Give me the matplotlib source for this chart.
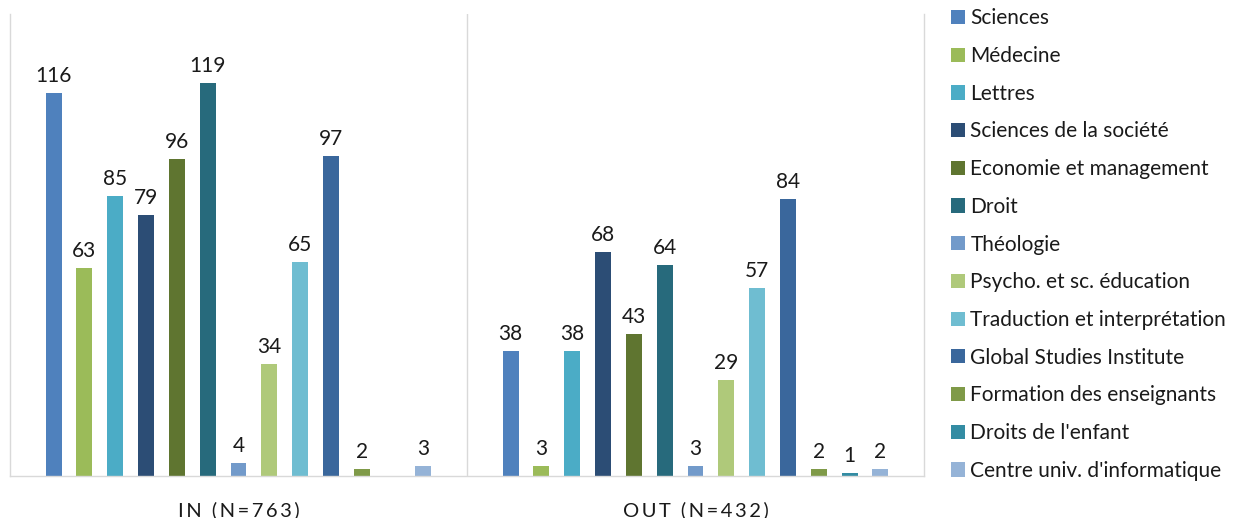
import matplotlib.pyplot as plt
import numpy as np

plt.rcParams['font.family'] = ['Lato', 'DejaVu Sans']

groups = ["IN (N=763)", "OUT (N=432)"]
faculties = [
    "Sciences", "Médecine", "Lettres", "Sciences de la société",
    "Economie et management", "Droit", "Théologie", "Psycho. et sc. éducation",
    "Traduction et interprétation", "Global Studies Institute",
    "Formation des enseignants", "Droits de l'enfant", "Centre univ. d'informatique",
]
in_values = [116, 63, 85, 79, 96, 119, 4, 34, 65, 97, 2, 0, 3]
out_values = [38, 3, 38, 68, 43, 64, 3, 29, 57, 84, 2, 1, 2]
colors = [
    "#4F81BD", "#9BBB59", "#4BACC6", "#2C4D75", "#5F7530", "#276A7C",
    "#729ACA", "#AFC97A", "#6FBDD1", "#3A679C", "#7F9A48", "#338CA3", "#95B3D7",
]

fig = plt.figure(figsize=(12.4, 5.18), dpi=100)
ax = fig.add_axes([10 / 1240, 42 / 518, 914 / 1240, 462 / 518])

x = np.arange(len(groups))
slot = 0.0674
width = 0.035
for i, (name, col) in enumerate(zip(faculties, colors)):
    vals = [in_values[i], out_values[i]]
    pos = x + (i - 6) * slot
    bars = ax.bar(pos, vals, width, color=col, label=name, edgecolor="none")
    for b, v in zip(bars, vals):
        if v > 0:
            ax.annotate(str(v), (b.get_x() + b.get_width() / 2, v),
                        xytext=(0, 5), textcoords="offset points",
                        ha="center", va="bottom", fontsize=15, color="#1a1a1a")

ax.set_xlim(-0.5, 1.5)
ax.set_ylim(0, 140)
ax.set_yticks([])
ax.set_xticks([])
grid = "#D9D9D9"
for s in ["left", "right", "bottom"]:
    ax.spines[s].set_color(grid)
    ax.spines[s].set_linewidth(1)
ax.spines["top"].set_visible(False)
ax.axvline(0.5, color=grid, lw=1)

for xi, g in zip(x, groups):
    ax.text(xi, -0.055, "\u2009".join(g), transform=ax.get_xaxis_transform(),
            ha="center", va="top", fontsize=14.5, color="#1a1a1a")

leg = fig.legend(loc="upper left", bbox_to_anchor=(943 / 1240, 1.0), frameon=False,
                 fontsize=15, handlelength=0.67, handleheight=0.67, handletextpad=0.25,
                 labelspacing=0.85, borderaxespad=0.0)
for t in leg.get_texts():
    t.set_color("#1a1a1a")

fig.savefig("out.png", dpi=100)
